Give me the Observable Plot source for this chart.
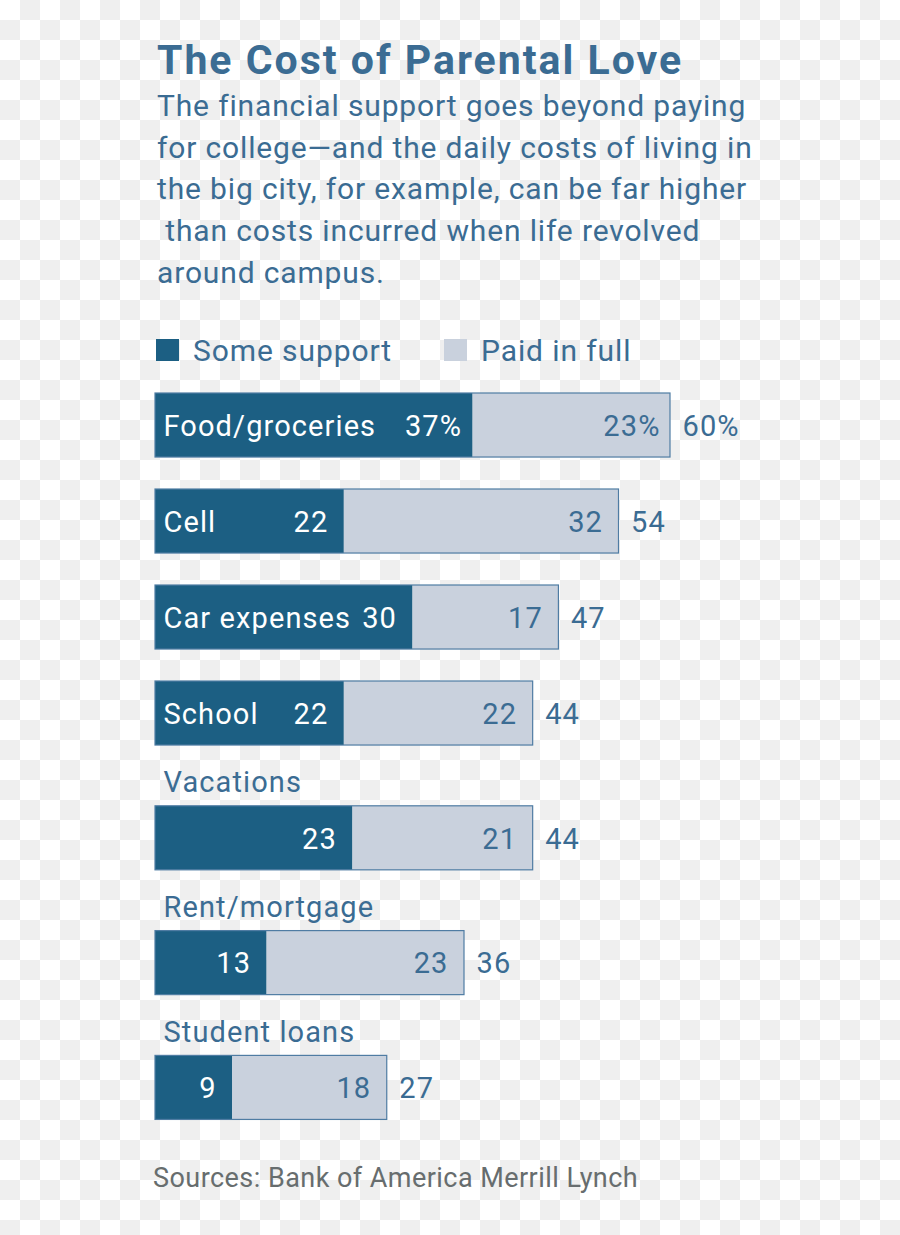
<!DOCTYPE html>
<html><head><meta charset="utf-8">
<script src="https://cdn.jsdelivr.net/npm/d3@7"></script>
<script src="https://cdn.jsdelivr.net/npm/@observablehq/plot@0.6"></script>
<style>
html,body{margin:0;padding:0;}
body{width:900px;height:1235px;position:relative;overflow:hidden;
 background: repeating-conic-gradient(#efefef 0 25%, #ffffff 0 50%) 0 0/40px 40px;
 font-family: Roboto, sans-serif; color:#3b6c93;}
.abs{position:absolute;white-space:pre;}
#title{left:157px;top:40px;font-size:41px;line-height:41px;font-weight:700;letter-spacing:2px;}
#subtitle{left:157px;top:85px;font-size:30px;line-height:41.7px;letter-spacing:0.85px;}
.legend{top:336px;font-size:30px;line-height:30px;letter-spacing:0.9px;}
.sw{position:absolute;width:23px;height:22px;top:339px;}
#chart{position:absolute;left:0;top:370px;}
#source{left:153px;top:1165px;font-size:27px;line-height:27px;color:#676d6e;letter-spacing:0.45px;}
</style></head><body>
<div id="title" class="abs"></div>
<div id="subtitle" class="abs"></div>
<div id="legend"></div>
<div id="chart"></div>
<div id="source" class="abs"></div>
<script>
const titleText = "The Cost of Parental Love";
const subtitleLines = [
  "The financial support goes beyond paying",
  "for college\u2014and the daily costs of living in",
  "the big city, for example, can be far higher",
  " than costs incurred when life revolved",
  "around campus."
];
const sourceText = "Sources: Bank of America Merrill Lynch";
const seriesNames = ["Some support", "Paid in full"];
const seriesColors = ["#1c5f83", "#c9d1dd"];
const categories = ["Food/groceries", "Cell", "Car expenses", "School", "Vacations", "Rent/mortgage", "Student loans"];
const someSupport = [37, 22, 30, 22, 23, 13, 9];
const paidInFull = [23, 32, 17, 22, 21, 23, 18];
const totals = [60, 54, 47, 44, 44, 36, 27];
const labelAbove = [false, false, false, false, true, true, true];

const textBlue = "#3b6c93";
document.getElementById("title").textContent = titleText;
document.getElementById("subtitle").textContent = subtitleLines.join("\n");
document.getElementById("source").textContent = sourceText;

// legend
const legend = document.getElementById("legend");
const legendX = [[156, 193], [444, 481]];
seriesNames.forEach((name, i) => {
  const sw = document.createElement("div");
  sw.className = "sw";
  sw.style.left = legendX[i][0] + "px";
  sw.style.background = seriesColors[i];
  legend.appendChild(sw);
  const t = document.createElement("div");
  t.className = "abs legend";
  t.style.left = legendX[i][1] + "px";
  t.textContent = name;
  legend.appendChild(t);
});

// rows: layout position in row units (extra gap where label sits above the bar)
const barH = 0.667;
let pos = 0;
const rows = categories.map((cat, i) => {
  if (i > 0) pos += 1 + (labelAbove[i] ? 0.3 : 0);
  const pct = i === 0 ? "%" : "";
  return {
    cat, some: someSupport[i], full: paidInFull[i], total: totals[i],
    above: labelAbove[i], top: pos, pct: i === 0,
    someLabel: someSupport[i] + pct, fullLabel: paidInFull[i] + pct, totalLabel: totals[i] + pct
  };
});

const fs = 29;
const mid = d => d.top + barH / 2;
const chart = Plot.plot({
  width: 900,
  height: 770,
  margin: 0,
  x: {type: "linear", domain: [0, 60], range: [155, 670], axis: null},
  y: {type: "linear", domain: [0, 1], range: [23, 119], axis: null},
  style: {background: "transparent", fontFamily: "Roboto, sans-serif", letterSpacing: "1.1px"},
  marks: [
    Plot.rect(rows, {x1: d => 0, x2: "some", y1: "top", y2: d => d.top + barH, fill: seriesColors[0]}),
    Plot.rect(rows, {x1: "some", x2: d => d.some + d.full, y1: "top", y2: d => d.top + barH, fill: seriesColors[1]}),
    Plot.rect(rows, {x1: d => 0, x2: "total", y1: "top", y2: d => d.top + barH, fill: "none", stroke: "#4f7ca3", strokeWidth: 1.2}),
    // category labels inside bars
    Plot.text(rows.filter(d => !d.above), {x: d => 0, y: mid, text: "cat", textAnchor: "start", dx: 8, dy: 1, fill: "white", fontSize: fs, lineAnchor: "middle"}),
    // category labels above bars
    Plot.text(rows.filter(d => d.above), {x: d => 0, y: "top", text: "cat", textAnchor: "start", dx: 8, dy: -14, fill: textBlue, fontSize: fs, lineAnchor: "bottom"}),
    // some support values
    Plot.text(rows.filter(d => !d.pct), {x: "some", y: mid, text: "someLabel", textAnchor: "end", dx: -16, dy: 1, fill: "white", fontSize: fs, lineAnchor: "middle"}),
    Plot.text(rows.filter(d => d.pct), {x: "some", y: mid, text: "someLabel", textAnchor: "end", dx: -11, dy: 1, fill: "white", fontSize: fs, lineAnchor: "middle"}),
    // paid in full values
    Plot.text(rows.filter(d => !d.pct), {x: d => d.some + d.full, y: mid, text: "fullLabel", textAnchor: "end", dx: -16, dy: 1, fill: textBlue, fontSize: fs, lineAnchor: "middle"}),
    Plot.text(rows.filter(d => d.pct), {x: d => d.some + d.full, y: mid, text: "fullLabel", textAnchor: "end", dx: -10, dy: 1, fill: textBlue, fontSize: fs, lineAnchor: "middle"}),
    // totals
    Plot.text(rows, {x: "total", y: mid, text: "totalLabel", textAnchor: "start", dx: 12, dy: 1, fill: textBlue, fontSize: fs, lineAnchor: "middle"})
  ]
});
document.getElementById("chart").appendChild(chart);
</script>
</body></html>
